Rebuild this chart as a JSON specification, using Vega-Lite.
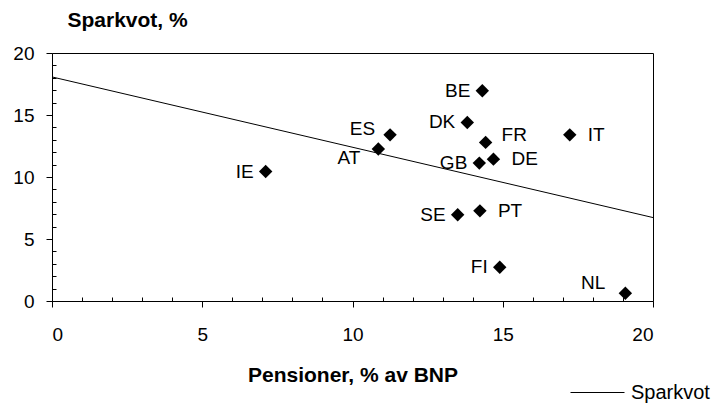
{
  "$schema": "https://vega.github.io/schema/vega-lite/v6.json",
  "width": 601,
  "height": 248,
  "autosize": "none",
  "padding": {"left": 52, "top": 53, "right": 64, "bottom": 104},
  "background": "white",
  "config": {
    "view": {"stroke": "black", "strokeWidth": 1},
    "font": "Liberation Sans",
    "axis": {"grid": false, "domainColor": "black", "tickColor": "black", "labelColor": "black", "titleColor": "black", "labelFont": "Liberation Sans", "titleFont": "Liberation Sans"},
    "text": {"font": "Liberation Sans", "fontSize": 19, "color": "black", "baseline": "middle"}
  },
  "datasets": {
    "countries": [
      {"land": "IE", "pension": 7.11, "saving": 10.44},
      {"land": "AT", "pension": 10.86, "saving": 12.26},
      {"land": "ES", "pension": 11.25, "saving": 13.4},
      {"land": "SE", "pension": 13.5, "saving": 6.95},
      {"land": "DK", "pension": 13.82, "saving": 14.4},
      {"land": "GB", "pension": 14.22, "saving": 11.12},
      {"land": "PT", "pension": 14.24, "saving": 7.27},
      {"land": "BE", "pension": 14.32, "saving": 16.96},
      {"land": "FR", "pension": 14.43, "saving": 12.79},
      {"land": "DE", "pension": 14.69, "saving": 11.44},
      {"land": "FI", "pension": 14.9, "saving": 2.72},
      {"land": "IT", "pension": 17.23, "saving": 13.4},
      {"land": "NL", "pension": 19.08, "saving": 0.62}
    ],
    "trend": [
      {"pension": 0, "saving": 18.07},
      {"pension": 20, "saving": 6.73}
    ]
  },
  "layer": [
    {
      "data": {"name": "trend"},
      "mark": {"type": "line", "color": "black", "strokeWidth": 1},
      "encoding": {
        "x": {"field": "pension", "type": "quantitative", "scale": {"domain": [0, 20], "nice": false, "zero": false},
          "axis": {"orient": "bottom", "values": [1,2,3,4,6,7,8,9,11,12,13,14,16,17,18,19], "tickSize": -4, "labels": false, "domain": false, "title": null}},
        "y": {"field": "saving", "type": "quantitative", "scale": {"domain": [0, 20], "nice": false, "zero": false},
          "axis": {"orient": "left", "values": [1,2,3,4,6,7,8,9,11,12,13,14,16,17,18,19], "tickSize": -4, "labels": false, "domain": false, "title": null}},
        "stroke": {"datum": "Sparkvot", "type": "nominal", "scale": {"range": ["black"]},
          "legend": {"orient": "none", "legendX": 518, "legendY": 312, "title": null, "symbolType": "stroke", "symbolSize": 2916, "symbolStrokeWidth": 1, "symbolStrokeColor": "black", "labelFontSize": 20, "labelFont": "Liberation Sans", "labelColor": "black", "labelOffset": 6, "padding": 0}}
      }
    },
    {
      "data": {"name": "countries"},
      "mark": {"type": "point", "shape": "diamond", "filled": true, "color": "black", "size": 180, "opacity": 1},
      "encoding": {
        "x": {"field": "pension", "type": "quantitative",
          "axis": {"orient": "bottom", "values": [0, 5, 10, 15, 20], "tickSize": 6, "labelFontSize": 19, "labelPadding": 18, "title": "Pensioner, % av BNP", "titleFontSize": 21, "titleFontWeight": "bold", "titleBaseline": "alphabetic", "titleY": 80}},
        "y": {"field": "saving", "type": "quantitative",
          "axis": {"orient": "left", "values": [0, 5, 10, 15, 20], "tickSize": 6, "labelFontSize": 19, "labelPadding": 12, "title": "Sparkvot, %", "titleFontSize": 21, "titleFontWeight": "bold", "titleAngle": 0, "titleAlign": "left", "titleBaseline": "alphabetic", "titleX": 15, "titleY": -27}}
      }
    },
    {
      "data": {"name": "countries"},
      "transform": [{"filter": {"field": "land", "oneOf": ["DK", "GB", "SE", "IE", "FI", "BE"]}}],
      "mark": {"type": "text", "align": "right", "dx": -12},
      "encoding": {
        "x": {"field": "pension", "type": "quantitative", "axis": null},
        "y": {"field": "saving", "type": "quantitative", "axis": null},
        "text": {"field": "land"}
      }
    },
    {
      "data": {"name": "countries"},
      "transform": [{"filter": {"field": "land", "oneOf": ["IT", "PT", "DE"]}}],
      "mark": {"type": "text", "align": "left", "dx": 18},
      "encoding": {
        "x": {"field": "pension", "type": "quantitative", "axis": null},
        "y": {"field": "saving", "type": "quantitative", "axis": null},
        "text": {"field": "land"}
      }
    },
    {
      "data": {"name": "countries"},
      "transform": [{"filter": {"field": "land", "oneOf": ["FR"]}}],
      "mark": {"type": "text", "align": "left", "dx": 16, "dy": -7},
      "encoding": {
        "x": {"field": "pension", "type": "quantitative", "axis": null},
        "y": {"field": "saving", "type": "quantitative", "axis": null},
        "text": {"field": "land"}
      }
    },
    {
      "data": {"name": "countries"},
      "transform": [{"filter": {"field": "land", "oneOf": ["ES"]}}],
      "mark": {"type": "text", "align": "right", "dx": -15, "dy": -6},
      "encoding": {
        "x": {"field": "pension", "type": "quantitative", "axis": null},
        "y": {"field": "saving", "type": "quantitative", "axis": null},
        "text": {"field": "land"}
      }
    },
    {
      "data": {"name": "countries"},
      "transform": [{"filter": {"field": "land", "oneOf": ["AT"]}}],
      "mark": {"type": "text", "align": "right", "dx": -18, "dy": 9},
      "encoding": {
        "x": {"field": "pension", "type": "quantitative", "axis": null},
        "y": {"field": "saving", "type": "quantitative", "axis": null},
        "text": {"field": "land"}
      }
    },
    {
      "data": {"name": "countries"},
      "transform": [{"filter": {"field": "land", "oneOf": ["NL"]}}],
      "mark": {"type": "text", "align": "right", "dx": -20, "dy": -10},
      "encoding": {
        "x": {"field": "pension", "type": "quantitative", "axis": null},
        "y": {"field": "saving", "type": "quantitative", "axis": null},
        "text": {"field": "land"}
      }
    }
  ],
  "resolve": {"axis": {"x": "independent", "y": "independent"}}
}
